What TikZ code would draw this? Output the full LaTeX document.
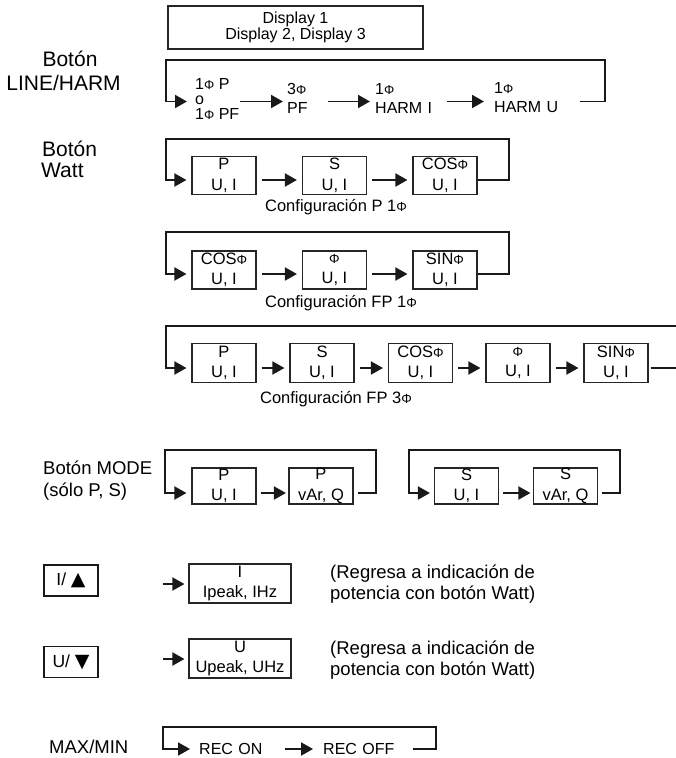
\documentclass[tikz,border=0pt]{standalone}
\usepackage{fontspec}
\setmainfont{Liberation Sans}
\newfontfamily\dejavu{DejaVu Sans}
\usetikzlibrary{arrows.meta,calc}
\newcommand\ph{\scalebox{0.8}{Φ}}
\begin{document}
\begin{tikzpicture}[x=1pt,y=-1pt,
  box/.style={draw=black!85, line width=1.1pt, minimum width=64pt, minimum height=38pt, inner sep=0pt, align=center, font=\fontsize{16.5}{20.5}\selectfont},
  lp/.style={draw=black!90, line width=1.9pt},
  tip/.style={-{Triangle[length=12pt,width=13pt]}},
  arr/.style={lp, tip, shorten >=5pt, shorten <=5pt},
  big/.style={font=\fontsize{21}{25}\selectfont, inner sep=0pt},
  mid/.style={font=\fontsize{18.5}{21}\selectfont, inner sep=0pt},
  captxt/.style={font=\fontsize{16.5}{18}\selectfont, inner sep=0pt},
  lt/.style={font=\fontsize{16}{19}\selectfont, inner sep=1pt, align=left, anchor=west},
  btn/.style={draw=black!90, line width=1.5pt, minimum width=54pt, minimum height=31pt, inner sep=0pt, font=\fontsize{17.5}{20}\selectfont}
]
\useasboundingbox (0,0) rectangle (676,758);

% Display header
\node[draw=black!85, line width=1.1pt, minimum width=255pt, minimum height=43pt, inner sep=0pt, align=center, font=\fontsize{16}{16}\selectfont] (disp) at (295.5,27.5) {Display 1\\Display 2, Display 3};

% LINE/HARM
\node[big, anchor=base] (bt1) at (70,66) {Botón};
\node[big, anchor=base] (lh) at (63.5,90) {LINE/HARM};
\coordinate (lhy) at (0,101.5);
\coordinate (lhtl) at (166,60);
\coordinate (lhtr) at (605,60);
\node[lt, font=\fontsize{16}{15}\selectfont] (lhA) at (194,99.5) {1\ph\ P\\o\\1\ph\ PF};
\node[lt, text width=40pt] (lhB) at (286,98) {3\ph\\PF};
\node[lt, text width=71pt] (lhC) at (374,98) {1\ph\\HARM I};
\node[lt, text width=85pt] (lhD) at (493,98) {1\ph\\HARM U};
\draw[arr, shorten <=0pt, shorten >=3pt] (lhA.east |- lhy) -- (lhB.west |- lhy);
\draw[arr, shorten <=0pt, shorten >=4pt] (lhB.east |- lhy) -- (lhC.west |- lhy);
\draw[arr, shorten <=0pt, shorten >=9pt] (lhC.east |- lhy) -- (lhD.west |- lhy);
\draw[lp, tip, shorten <=0pt, shorten >=7pt] (lhD.east |- lhy) -| (lhtr) -- (lhtl) |- (lhA.west |- lhy);

% Watt
\node[big, anchor=base west] (bt2) at (42,156) {Botón};
\node[big, anchor=base west] (watt) at (41,177) {Watt};

\coordinate (w1y) at (0,180);
\coordinate (w1tl) at (166,139);
\coordinate (w1tr) at (509,139);
\node[box] (w11) at (224,175.5) {P\\U, I};
\node[box] (w12) at (334.5,175.5) {S\\U, I};
\node[box] (w13) at (445,175.5) {COS\ph\\U, I};
\draw[arr] (w11.east |- w1y) -- (w12.west |- w1y);
\draw[arr] (w12.east |- w1y) -- (w13.west |- w1y);
\draw[lp, tip, shorten >=5pt] (w13.east |- w1y) -| (w1tr) -- (w1tl) |- (w11.west |- w1y);
\node[captxt] (c1) at (336,207) {Configuración P 1\ph};

\coordinate (w2y) at (0,274);
\coordinate (w2tl) at (166,232);
\coordinate (w2tr) at (509,232);
\node[box] (w21) at (224,270) {COS\ph\\U, I};
\node[box] (w22) at (334.5,270) {\ph\\U, I};
\node[box] (w23) at (445,270) {SIN\ph\\U, I};
\draw[arr] (w21.east |- w2y) -- (w22.west |- w2y);
\draw[arr] (w22.east |- w2y) -- (w23.west |- w2y);
\draw[lp, tip, shorten >=5pt] (w23.east |- w2y) -| (w2tr) -- (w2tl) |- (w21.west |- w2y);
\node[captxt] (c2) at (341,303) {Configuración FP 1\ph};

% FP 3 phase
\coordinate (f3y) at (0,368);
\coordinate (f3tl) at (166,326);
\coordinate (f3tr) at (676,326);
\coordinate (f3end) at (676,368);
\node[box, minimum height=39pt] (f31) at (224,363) {P\\U, I};
\node[box, minimum height=39pt] (f32) at (322,363) {S\\U, I};
\node[box, minimum height=39pt] (f33) at (420.5,363) {COS\ph\\U, I};
\node[box, minimum height=39pt] (f34) at (518,363) {\ph\\U, I};
\node[box, minimum height=39pt] (f35) at (616,363) {SIN\ph\\U, I};
\draw[arr] (f31.east |- f3y) -- (f32.west |- f3y);
\draw[arr] (f32.east |- f3y) -- (f33.west |- f3y);
\draw[arr] (f33.east |- f3y) -- (f34.west |- f3y);
\draw[arr] (f34.east |- f3y) -- (f35.west |- f3y);
\draw[lp, shorten <=2pt] (f35.east |- f3y) -- (f3end);
\draw[lp, tip, shorten >=5pt] (f3tr) -- (f3tl) |- (f31.west |- f3y);
\node[captxt] (c3) at (336,399) {Configuración FP 3\ph};

% MODE
\node[mid, anchor=base west] (mode) at (43,474.5) {Botón MODE};
\node[mid, anchor=base west] (solo) at (43,496) {(sólo P, S)};
\coordinate (my) at (0,493);
\coordinate (m1tl) at (165,450);
\coordinate (m1tr) at (376,450);
\coordinate (m2tl) at (409,450);
\coordinate (m2tr) at (620,450);
\node[box, minimum height=36pt] (m1) at (224,486) {P\\U, I};
\node[box, minimum height=36pt] (m2) at (321,486) {P\\vAr, Q};
\node[box, minimum height=36pt] (m3) at (466.5,486) {S\\U, I};
\node[box, minimum height=36pt] (m4) at (565.5,486) {S\\vAr, Q};
\draw[arr, shorten <=4pt, shorten >=2.5pt] (m1.east |- my) -- (m2.west |- my);
\draw[arr, shorten <=4pt, shorten >=2.5pt] (m3.east |- my) -- (m4.west |- my);
\draw[lp, tip, shorten <=4pt, shorten >=5pt] (m2.east |- my) -| (m1tr) -- (m1tl) |- (m1.west |- my);
\draw[lp, tip, shorten <=4pt, shorten >=4pt] (m4.east |- my) -| (m2tr) -- (m2tl) |- (m3.west |- my);

% I / up
\node[btn] (ib) at (71,580.5) {I/ {\dejavu\fontsize{19}{19}\selectfont ▲}};
\coordinate (ia) at (163,584);
\node[box, minimum width=102pt, minimum height=39pt, font=\fontsize{16.5}{20}\selectfont] (ibox) at (240,583.5) {I\\Ipeak, IHz};
\draw[lp, tip, shorten >=4pt] (ia) -- (ibox.west |- ia);
\node[mid, anchor=west, align=left] (iret) at (330,584) {(Regresa a indicación de\\potencia con botón Watt)};

% U / down
\node[btn] (ub) at (71,662) {U/ {\dejavu\fontsize{19}{19}\selectfont ▼}};
\coordinate (ua) at (163,659);
\node[box, minimum width=102pt, minimum height=39pt, font=\fontsize{16.5}{20}\selectfont] (ubox) at (240,658.5) {U\\Upeak, UHz};
\draw[lp, tip, shorten >=4pt] (ua) -- (ubox.west |- ua);
\node[mid, anchor=west, align=left] (uret) at (330,660) {(Regresa a indicación de\\potencia con botón Watt)};

% MAX/MIN
\node[mid, anchor=base west] (mm) at (49,753) {MAX/MIN};
\coordinate (mmy) at (0,749);
\coordinate (mmtl) at (163,727);
\coordinate (mmtr) at (436,727);
\node[anchor=west, inner sep=1pt, font=\fontsize{16}{18}\selectfont, text width=83pt] (ron) at (198,749) {REC ON};
\node[anchor=west, inner sep=1pt, font=\fontsize{16}{18}\selectfont, text width=87pt] (roff) at (322,749) {REC OFF};
\draw[arr, shorten <=2pt, shorten >=9pt] (ron.east |- mmy) -- (roff.west |- mmy);
\draw[lp, tip, shorten <=2pt, shorten >=8pt] (roff.east |- mmy) -| (mmtr) -- (mmtl) |- (ron.west |- mmy);
\end{tikzpicture}
\end{document}
